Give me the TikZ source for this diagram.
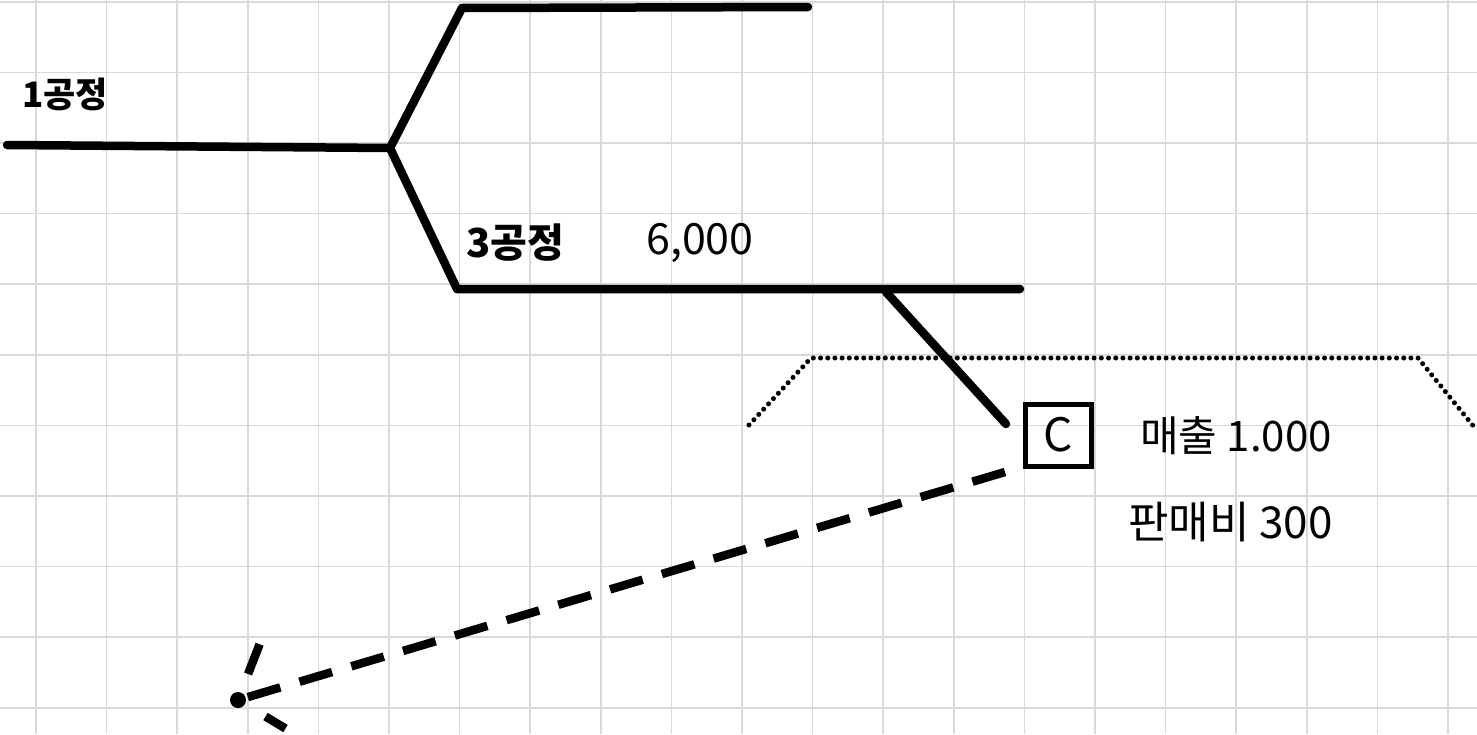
\documentclass[tikz,border=0pt]{standalone}
\usepackage{fontspec}
\newfontfamily\kr{Noto Sans CJK KR}
\usetikzlibrary{calc}
\begin{document}
\begin{tikzpicture}[x=1pt,y=-1pt,
  gridline/.style={draw=black!15,line width=1.6pt},
  stroke/.style={draw=black,line width=8.5pt,line cap=round,line join=round},
  dotline/.style={draw=black,line width=5pt,line cap=round,dash pattern=on 0pt off 7.2pt},
  dashline/.style={draw=black,line width=8.5pt,dash pattern=on 34pt off 20pt},
  boxc/.style={draw=black,line width=5pt,minimum width=66pt,minimum height=62pt,inner sep=0pt,font=\kr\fontsize{46}{46}\selectfont},
  lbl/.style={inner sep=0pt,anchor=west,font=\kr\fontsize{42}{42}\selectfont},
  lblb/.style={inner sep=0pt,anchor=west,font=\kr\bfseries\fontsize{38}{38}\selectfont}]
% paper
\fill[white] (0,0) rectangle (1477,734);
\useasboundingbox (0,0) rectangle (1477,734);
% grid paper
\foreach \i in {0,...,20} \draw[gridline] ({36+70.6*\i},0) -- ({36+70.6*\i},734);
\foreach \j in {0,...,10} \draw[gridline] (0,{1.8+70.6*\j}) -- (1477,{1.8+70.6*\j});
% process branches
\coordinate (p1) at (7,145);
\coordinate (jn) at (390,148);
\coordinate (u1) at (462,8);
\coordinate (u2) at (808,7);
\coordinate (d1) at (457,289);
\coordinate (d2) at (1020,289);
\coordinate (b1) at (886,292);
\coordinate (b2) at (1006,424);
\draw[stroke] (p1) -- (jn);
\draw[stroke] (jn) -- (u1) -- (u2);
\draw[stroke] (jn) -- (d1) -- (d2);
\draw[stroke] (b1) -- (b2);
% dotted outline
\coordinate (o1) at (749,425);
\coordinate (o2) at (811,358);
\coordinate (o3) at (1418,358);
\coordinate (o4) at (1475,428);
\draw[dotline] (o1) -- (o2) -- (o3) -- (o4);
% product C
\node[boxc] (c) at (1058,435) {C};
% dashed arrow
\coordinate (ds) at (1005,472);
\coordinate (tip) at (238,700);
\coordinate (h1) at (262,638);
\coordinate (h2) at (288,730);
\draw[dashline] (ds) -- (tip);
\draw[stroke,line cap=butt] ($(tip)!0.42!(h1)$) -- ($(tip)!0.9!(h1)$);
\draw[stroke,line cap=butt] ($(tip)!0.55!(h2)$) -- ($(tip)!0.95!(h2)$);
\fill (tip) circle (8pt);
% labels
\node[lblb,font=\kr\bfseries\fontsize{35}{35}\selectfont] (l1) at (22,94) {1공정};
\node[lblb,font=\kr\bfseries\fontsize{40}{40}\selectfont] (l3) at (466,243) {3공정};
\node[lbl,font=\kr\fontsize{43}{43}\selectfont] (v3) at (646,243) {6,000};
\node[lbl] (s1) at (1140,436) {매출 1.000};
\node[lbl,font=\kr\fontsize{44}{44}\selectfont] (s2) at (1128,522) {판매비 300};
\end{tikzpicture}
\end{document}
